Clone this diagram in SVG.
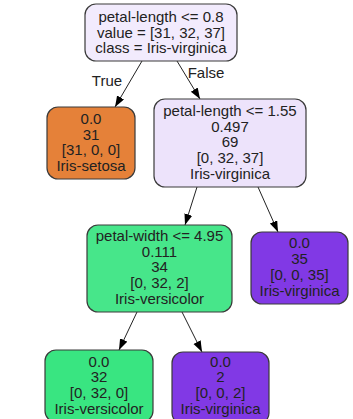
<svg xmlns="http://www.w3.org/2000/svg" width="353" height="419" viewBox="0 0 353 419">
<defs>
<style>
.box{stroke:#3a3a3a;stroke-width:1.2}
text{font-family:"Liberation Sans",Arial,sans-serif;font-size:15px;fill:#222;text-anchor:middle}
.edge{stroke:#222;stroke-width:1;fill:none}
</style>
<marker id="arr" markerUnits="userSpaceOnUse" markerWidth="12" markerHeight="10" refX="11" refY="4" orient="auto">
<path d="M0,0 L11,4 L0,8 Z" fill="#000"/>
</marker>
</defs>
<rect width="353" height="419" fill="#fff"/>
<g id="edges">
<line class="edge" x1="142" y1="61" x2="115" y2="107" marker-end="url(#arr)"/>
<line class="edge" x1="177" y1="61" x2="200" y2="99" marker-end="url(#arr)"/>
<line class="edge" x1="197" y1="187" x2="185" y2="225" marker-end="url(#arr)"/>
<line class="edge" x1="258" y1="187" x2="278" y2="232" marker-end="url(#arr)"/>
<line class="edge" x1="137" y1="312" x2="119" y2="350" marker-end="url(#arr)"/>
<line class="edge" x1="182" y1="312" x2="202" y2="352" marker-end="url(#arr)"/>
<text x="107" y="86">True</text>
<text x="206" y="78">False</text>
</g>
<g id="root">
<rect class="box" x="85" y="4" width="152" height="57" rx="11" fill="#f2ebfd"/>
<text x="161" y="22">petal-length &lt;= 0.8</text>
<text x="161" y="37.7">value = [31, 32, 37]</text>
<text x="161" y="53.4">class = Iris-virginica</text>
</g>
<g id="setosa">
<rect class="box" x="47" y="107" width="88" height="72" rx="11" fill="#e58139"/>
<text x="91" y="124">0.0</text>
<text x="91" y="139.7">31</text>
<text x="91" y="155.4">[31, 0, 0]</text>
<text x="91" y="171.1">Iris-setosa</text>
</g>
<g id="node2">
<rect class="box" x="154" y="99" width="152" height="88" rx="11" fill="#ede3fb"/>
<text x="230" y="116">petal-length &lt;= 1.55</text>
<text x="230" y="131.7">0.497</text>
<text x="230" y="147.4">69</text>
<text x="230" y="163.1">[0, 32, 37]</text>
<text x="230" y="178.8">Iris-virginica</text>
</g>
<g id="node3">
<rect class="box" x="87" y="225" width="145" height="87" rx="11" fill="#47e68a"/>
<text x="159.5" y="240.8">petal-width &lt;= 4.95</text>
<text x="159.5" y="256.5">0.111</text>
<text x="159.5" y="272.2">34</text>
<text x="159.5" y="287.9">[0, 32, 2]</text>
<text x="159.5" y="303.6">Iris-versicolor</text>
</g>
<g id="node4">
<rect class="box" x="251" y="232" width="97" height="72" rx="11" fill="#8139e5"/>
<text x="299.5" y="248">0.0</text>
<text x="299.5" y="263.9">35</text>
<text x="299.5" y="279.8">[0, 0, 35]</text>
<text x="299.5" y="295.7">Iris-virginica</text>
</g>
<g id="leaf1">
<rect class="box" x="45" y="350" width="108" height="72" rx="11" fill="#39e581"/>
<text x="99" y="366.5">0.0</text>
<text x="99" y="382.2">32</text>
<text x="99" y="397.9">[0, 32, 0]</text>
<text x="99" y="413.6">Iris-versicolor</text>
</g>
<g id="leaf2">
<rect class="box" x="172" y="352" width="97" height="72" rx="11" fill="#8139e5"/>
<text x="220.5" y="366.5">0.0</text>
<text x="220.5" y="382.2">2</text>
<text x="220.5" y="397.9">[0, 0, 2]</text>
<text x="220.5" y="413.6">Iris-virginica</text>
</g>
</svg>
